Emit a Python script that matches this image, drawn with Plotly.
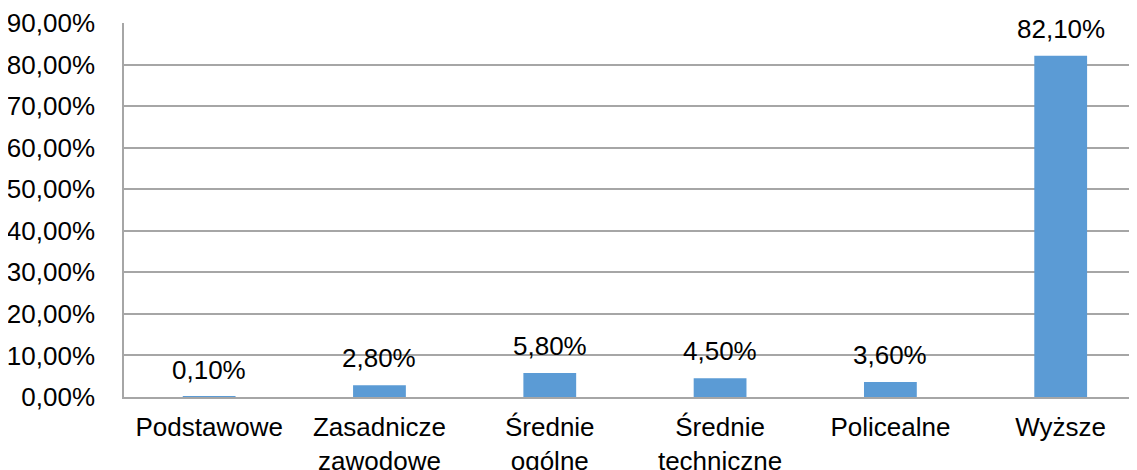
import plotly.graph_objects as go

categories = ['Podstawowe', 'Zasadnicze<br>zawodowe', 'Średnie<br>ogólne',
              'Średnie<br>techniczne', 'Policealne', 'Wyższe']
values = [0.1, 2.8, 5.8, 4.5, 3.6, 82.1]
labels = ['0,10%', '2,80%', '5,80%', '4,50%', '3,60%', '82,10%']

font_family = 'Liberation Sans, Arial, sans-serif'
grid_color = '#A6A6A6'

fig = go.Figure()
fig.add_trace(go.Bar(
    x=list(range(len(categories))),
    y=values,
    width=0.31,
    marker=dict(color='#5B9BD5', line=dict(width=0)),
    hoverinfo='skip',
))

# value labels above bars
annotations = []
for i, (v, lab) in enumerate(zip(values, labels)):
    annotations.append(dict(
        x=i, y=v, xref='x', yref='y', text=lab, showarrow=False,
        yanchor='bottom', yshift=10,
        font=dict(family=font_family, size=26, color='#000000'),
    ))

# page body has an 8px margin, so the figure is sized/offset to compensate
fig.update_layout(
    width=1129, height=462,
    margin=dict(l=116, r=0, t=15, b=73, autoexpand=False),
    paper_bgcolor='white', plot_bgcolor='white',
    separators=', ',
    showlegend=False,
    font=dict(family=font_family, size=26, color='#000000'),
    annotations=annotations,
    xaxis=dict(
        tickmode='array',
        tickvals=list(range(len(categories))),
        ticktext=categories,
        range=[-0.5, 5.448],
        showgrid=False, zeroline=False,
        showline=True, linecolor=grid_color, linewidth=1.5,
        ticks='', tickangle=0,
        ticklabelstandoff=6,
        automargin=False,
        tickfont=dict(size=26, color='#000000'),
    ),
    yaxis=dict(
        range=[0, 90],
        dtick=10,
        tickformat='.2f',
        ticksuffix='%',
        showgrid=True, gridcolor=grid_color, gridwidth=1.5,
        zeroline=False,
        showline=True, linecolor=grid_color, linewidth=1.5,
        ticks='',
        ticklabelstandoff=22,
        automargin=False,
        tickfont=dict(size=26, color='#000000'),
    ),
)

fig.write_html("out.html")
